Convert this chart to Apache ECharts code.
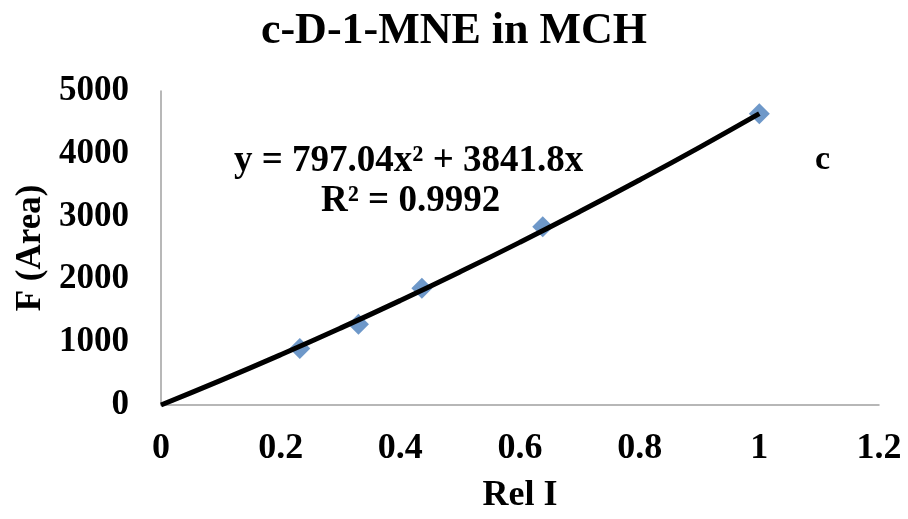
<!DOCTYPE html>
<html>
<head>
<meta charset="utf-8">
<script src="https://cdn.jsdelivr.net/npm/echarts@6/dist/echarts.min.js"></script>
<style>html,body{margin:0;padding:0;background:#fff}#c{width:908px;height:519px}</style>
</head>
<body>
<div id="c"></div>
<script>
// Measured points (Rel I, F (Area))
const relI = [0.232, 0.330, 0.436, 0.638, 1.0];
const area = [900, 1285, 1860, 2840, 4638];
// Trendline
const trendX = [0, 0.1, 0.2, 0.3, 0.4, 0.5, 0.6, 0.7, 0.8, 0.9, 1.0];
const trendY = [0, 392, 800, 1224, 1664, 2120, 2592, 3080, 3584, 4103, 4639];
const xTicks = ['0', '0.2', '0.4', '0.6', '0.8', '1', '1.2'];
const yTicks = ['0', '1000', '2000', '3000', '4000', '5000'];
const titleText = 'c-D-1-MNE in MCH';
const eqText = 'y = 797.04x² + 3841.8x';
const r2Text = 'R² = 0.9992';
const panelText = 'c';

const FONT = '"Liberation Serif", "DejaVu Serif", serif';
const chart = echarts.init(document.getElementById('c'));
chart.setOption({
  backgroundColor: '#fff',
  animation: false,
  title: [
    { text: titleText, left: 'center', top: 5,
      textStyle: { fontFamily: FONT, fontWeight: 'bold', fontSize: 44, color: '#000' } },
    { text: eqText, left: 229, top: 138,
      textStyle: { fontFamily: FONT, fontWeight: 'bold', fontSize: 37, color: '#000' } },
    { text: r2Text, left: 316, top: 178,
      textStyle: { fontFamily: FONT, fontWeight: 'bold', fontSize: 37, color: '#000' } },
    { text: panelText, left: 810, top: 138,
      textStyle: { fontFamily: FONT, fontWeight: 'bold', fontSize: 34, color: '#000' } }
  ],
  grid: { left: 161, right: 29, top: 91, bottom: 110 },
  xAxis: {
    type: 'value', min: 0, max: 1.2, interval: 0.2,
    name: 'Rel I', nameLocation: 'middle', nameGap: 73,
    nameTextStyle: { fontFamily: FONT, fontWeight: 'bold', fontSize: 36, color: '#000' },
    axisLine: { show: true, lineStyle: { color: '#a0a0a0', width: 1.5 } },
    axisTick: { show: false },
    splitLine: { show: false },
    axisLabel: { margin: 26, fontFamily: FONT, fontWeight: 'bold', fontSize: 36, color: '#000',
      formatter: (v) => xTicks[Math.round(v / 0.2)] }
  },
  yAxis: {
    type: 'value', min: 0, max: 5000, interval: 1000,
    name: 'F (Area)', nameLocation: 'middle', nameGap: 112, nameRotate: 90,
    nameTextStyle: { fontFamily: FONT, fontWeight: 'bold', fontSize: 35, color: '#000' },
    axisLine: { show: true, lineStyle: { color: '#a0a0a0', width: 1.5 } },
    axisTick: { show: false },
    splitLine: { show: false },
    axisLabel: { margin: 32, fontFamily: FONT, fontWeight: 'bold', fontSize: 35, color: '#000',
      formatter: (v) => yTicks[Math.round(v / 1000)] }
  },
  series: [
    {
      type: 'scatter', name: 'data', symbol: 'diamond', symbolSize: 21,
      itemStyle: { color: '#4a7ebb' },
      data: relI.map((x, i) => [x, area[i]]), z: 2
    },
    {
      type: 'line', name: 'trend', smooth: true, symbol: 'none',
      lineStyle: { color: '#000', width: 5 },
      data: trendX.map((x, i) => [x, trendY[i]]), z: 3
    }
  ]
});
</script>
</body>
</html>
